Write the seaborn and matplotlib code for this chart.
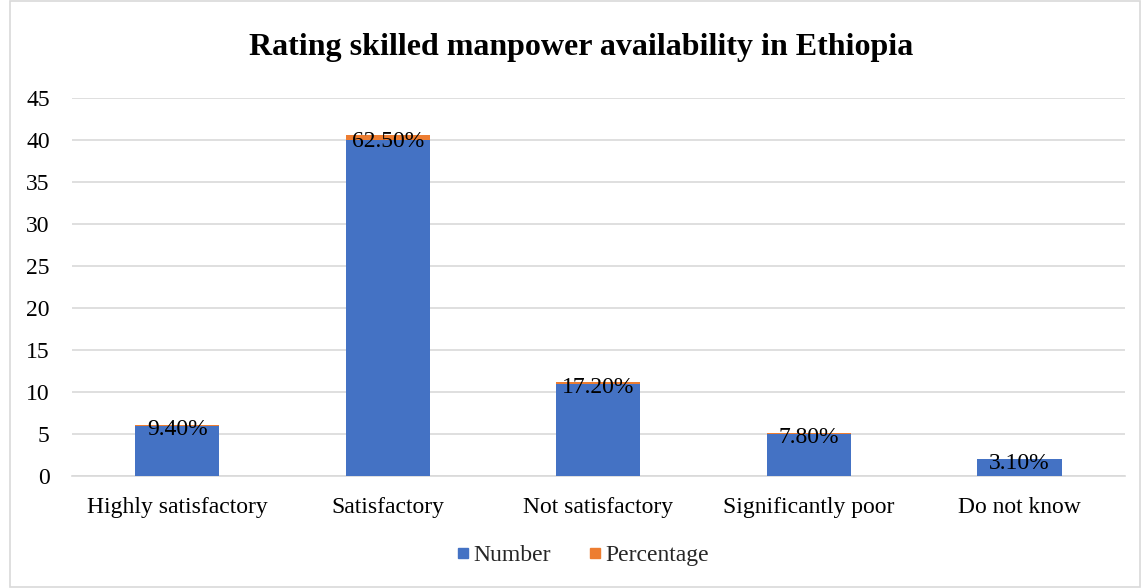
import pandas as pd
import numpy as np
import matplotlib.pyplot as plt
import seaborn as sns
from matplotlib.lines import Line2D
from matplotlib.patches import Rectangle

categories = ['Highly satisfactory', 'Satisfactory', 'Not satisfactory',
              'Significantly poor', 'Do not know']
number = [6, 40, 11, 5, 2]
percentage = [0.094, 0.625, 0.172, 0.078, 0.031]
pct_labels = ['9.40%', '62.50%', '17.20%', '7.80%', '3.10%']

df = pd.DataFrame({'Category': categories, 'Number': number, 'Percentage': percentage})
df['Total'] = df['Number'] + df['Percentage']

sns.set_style('white')
plt.rcParams['font.family'] = ['Liberation Serif', 'DejaVu Serif']

blue = '#4472C4'
orange = '#ED7D31'

fig = plt.figure(figsize=(11.43, 5.88), dpi=100)
ax = fig.add_axes([0.063, 0.1905, 0.921, 0.6428])

# stacked bars: orange total behind, blue number in front
sns.barplot(data=df, x='Category', y='Total', color=orange, width=0.4,
            saturation=1, linewidth=0, ax=ax, zorder=2)
sns.barplot(data=df, x='Category', y='Number', color=blue, width=0.4,
            saturation=1, linewidth=0, ax=ax, zorder=3)

for i, row in df.iterrows():
    ax.annotate(pct_labels[i], (i, row['Number'] + row['Percentage'] / 2),
                xytext=(0, -3), textcoords='offset points',
                ha='center', va='center', fontsize=17, color='#000000', zorder=4)

ax.set_ylim(0, 45)
ax.set_xlim(-0.5, 4.5)
ax.set_yticks(range(0, 46, 5))
ax.yaxis.grid(True, color='#d9d9d9', linewidth=1.2, zorder=0)
ax.set_axisbelow(True)
for s in ['top', 'right', 'left']:
    ax.spines[s].set_visible(False)
ax.spines['bottom'].set_color('#d9d9d9')
ax.spines['bottom'].set_linewidth(1.2)
ax.tick_params(axis='both', length=0, labelsize=17, colors='#000000')
ax.tick_params(axis='x', pad=15)
ax.tick_params(axis='y', pad=16)
ax.set_xlabel('')
ax.set_ylabel('')

fig.text(0.508, 0.92, 'Rating skilled manpower availability in Ethiopia',
         ha='center', va='center', fontsize=23, fontweight='bold', color='#000000')

handles = [Line2D([], [], marker='s', linestyle='', color=blue, markersize=7.5),
           Line2D([], [], marker='s', linestyle='', color=orange, markersize=7.5)]
fig.legend(handles, ['Number', 'Percentage'], loc='center', bbox_to_anchor=(0.508, 0.056),
           ncol=2, frameon=False, fontsize=17, handletextpad=0.0, columnspacing=1.4,
           handlelength=0.9)

fig.patches.append(Rectangle((0.0087, 0.002), 0.989, 0.996, transform=fig.transFigure,
                             fill=False, edgecolor='#d9d9d9', linewidth=1.2))

fig.savefig('out.png', dpi=100)
